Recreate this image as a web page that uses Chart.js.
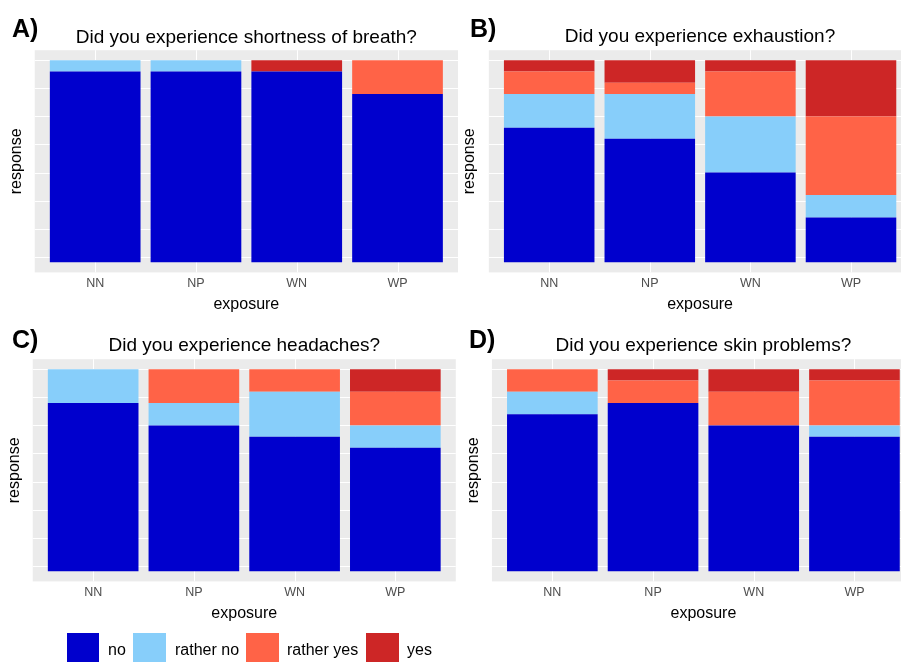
<!DOCTYPE html>
<html>
<head>
<meta charset="utf-8">
<script src="https://cdn.jsdelivr.net/npm/chart.js@4.4.1/dist/chart.umd.min.js"></script>
<style>
  html, body { margin: 0; padding: 0; background: #fff; }
  body { width: 901px; height: 662px; overflow: hidden; position: relative;
         font-family: "Liberation Sans", Arial, sans-serif; }
  canvas { position: absolute; }
  .letter { position: absolute; font-size: 25px; line-height: 25px; font-weight: bold; color: #000; }
  .title { position: absolute; width: 500px; text-align: center; font-size: 19px; line-height: 19px; color: #000; }
  .swatch { position: absolute; top: 633.3px; width: 32.7px; height: 32.7px; }
  .legend-label { position: absolute; top: 641.5px; font-size: 16px; line-height: 16px; color: #000; }
</style>
</head>
<body>
<canvas id="chartA" width="460" height="318" style="left:0px;top:0px"></canvas>
<canvas id="chartB" width="470" height="318" style="left:450px;top:0px"></canvas>
<canvas id="chartC" width="460" height="318" style="left:0px;top:309px"></canvas>
<canvas id="chartD" width="470" height="318" style="left:450px;top:309px"></canvas>
<div id="labels"></div>
<script>
// exposure groups and answer levels
const exposures = ["NN", "NP", "WN", "WP"];
const responses = ["no", "rather no", "rather yes", "yes"];
const responseColors = ["#0000CD", "#87CEFA", "#FF6347", "#CD2626"];

// number of answers per level (18 people per group)
const breathNo = [17, 17, 17, 15];
const breathRatherNo = [1, 1, 0, 0];
const breathRatherYes = [0, 0, 0, 3];
const breathYes = [0, 0, 1, 0];

const exhaustionNo = [12, 11, 8, 4];
const exhaustionRatherNo = [3, 4, 5, 2];
const exhaustionRatherYes = [2, 1, 4, 7];
const exhaustionYes = [1, 2, 1, 5];

const headacheNo = [15, 13, 12, 11];
const headacheRatherNo = [3, 2, 4, 2];
const headacheRatherYes = [0, 3, 2, 3];
const headacheYes = [0, 0, 0, 2];

const skinNo = [14, 15, 13, 12];
const skinRatherNo = [2, 0, 0, 1];
const skinRatherYes = [2, 2, 3, 4];
const skinYes = [0, 1, 2, 1];

// white guide lines of the grey panel (in answer counts)
const yGrid = [0.5, 3, 5.5, 8, 10.5, 13, 15.5, 18];

Chart.defaults.font.family = '"Liberation Sans", Arial, sans-serif';

// grey ggplot-like panel, a little wider than the category range
const panelBackground = {
  id: "panelBackground",
  beforeDraw(chart) {
    const { ctx, chartArea, scales } = chart;
    const x = scales.x, y = scales.y;
    const ext = (x.getPixelForValue(1) - x.getPixelForValue(0)) * 0.1;
    const left = chartArea.left - ext;
    const right = chartArea.right + ext;
    ctx.save();
    ctx.fillStyle = "#EBEBEB";
    ctx.fillRect(left, chartArea.top, right - left, chartArea.bottom - chartArea.top);
    ctx.strokeStyle = "#FFFFFF";
    ctx.lineWidth = 1;
    yGrid.forEach((v) => {
      const py = Math.round(y.getPixelForValue(v)) + 0.5;
      ctx.beginPath();
      ctx.moveTo(left, py);
      ctx.lineTo(right, py);
      ctx.stroke();
    });
    x.ticks.forEach((t, i) => {
      const px = Math.round(x.getPixelForTick(i)) + 0.5;
      ctx.beginPath();
      ctx.moveTo(px, chartArea.top);
      ctx.lineTo(px, chartArea.bottom);
      ctx.stroke();
    });
    ctx.restore();
  },
};

function drawPanel(id, series, areaLeft, padRight, yTitlePad) {
  const datasets = series.map((data, i) => ({
    label: responses[i],
    data: data,
    backgroundColor: responseColors[i],
    borderWidth: 0,
    categoryPercentage: 1,
    barPercentage: 0.9,
  }));
  return new Chart(document.getElementById(id), {
    type: "bar",
    data: { labels: exposures, datasets: datasets },
    plugins: [panelBackground],
    options: {
      responsive: false,
      animation: false,
      layout: { padding: { top: 50.2, right: padRight, left: 0, bottom: 0 } },
      plugins: { legend: { display: false }, tooltip: { enabled: false } },
      scales: {
        x: {
          stacked: true,
          offset: true,
          grid: { display: false },
          border: { display: false },
          ticks: { color: "#4D4D4D", font: { size: 12.5 }, padding: -4.5 },
          title: {
            display: true,
            text: "exposure",
            color: "#000",
            font: { size: 16 },
            padding: { top: 0, bottom: 3.4 },
          },
          afterFit(scale) { scale.height = 45.6; },
        },
        y: {
          stacked: true,
          min: -0.9,
          max: 18.9,
          grid: { display: false },
          border: { display: false },
          ticks: { display: false },
          title: {
            display: true,
            text: "response",
            color: "#000",
            font: { size: 16 },
            padding: { top: yTitlePad, bottom: 0 },
          },
          afterFit(scale) { scale.width = areaLeft; },
        },
      },
    },
  });
}

drawPanel("chartA", [breathNo, breathRatherNo, breathRatherYes, breathYes], 44.8, 12.1, 7.4);
drawPanel("chartB", [exhaustionNo, exhaustionRatherNo, exhaustionRatherYes, exhaustionYes], 48.9, 18.7, 10.4);
drawPanel("chartC", [headacheNo, headacheRatherNo, headacheRatherYes, headacheYes], 42.8, 14.3, 5.4);
drawPanel("chartD", [skinNo, skinRatherNo, skinRatherYes, skinYes], 52, 15.2, 14.4);

// panel letters, titles and the shared legend
const labels = document.getElementById("labels");
function addText(cls, text, left, top) {
  const d = document.createElement("div");
  d.className = cls;
  d.textContent = text;
  d.style.left = left + "px";
  d.style.top = top + "px";
  labels.appendChild(d);
}
addText("letter", "A)", 12, 15.5);
addText("letter", "B)", 470, 15.5);
addText("letter", "C)", 12, 327);
addText("letter", "D)", 469, 327);
addText("title", "Did you experience shortness of breath?", 246.3 - 250, 26.6);
addText("title", "Did you experience exhaustion?", 700 - 250, 26.2);
addText("title", "Did you experience headaches?", 244.3 - 250, 334.9);
addText("title", "Did you experience skin problems?", 703.4 - 250, 334.6);

const swatchLeft = [66.7, 133, 246, 366];
const labelLeft = [108, 175, 287, 407];
responses.forEach((r, i) => {
  const s = document.createElement("div");
  s.className = "swatch";
  s.style.left = swatchLeft[i] + "px";
  s.style.background = responseColors[i];
  labels.appendChild(s);
  addText("legend-label", r, labelLeft[i], 641.5);
});
</script>
</body>
</html>
